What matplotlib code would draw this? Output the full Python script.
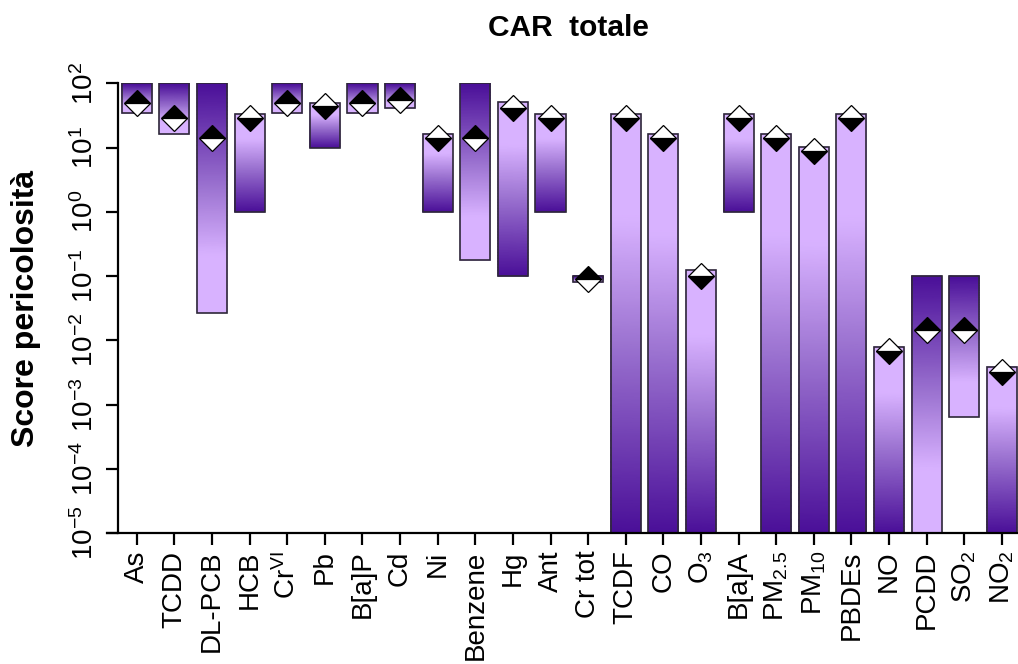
import numpy as np
import matplotlib
matplotlib.use("Agg")
import matplotlib.pyplot as plt
from matplotlib.colors import LinearSegmentedColormap
from matplotlib.lines import Line2D

plt.rcParams['font.family'] = ['Liberation Sans', 'DejaVu Sans']
plt.rcParams['mathtext.default'] = 'regular'

# ---------------- data ----------------
categories = ['As', 'TCDD', 'DL-PCB', 'HCB', 'Cr$^{VI}$', 'Pb', 'B[a]P', 'Cd', 'Ni',
              'Benzene', 'Hg', 'Ant', 'Cr tot', 'TCDF', 'CO', 'O$_3$', 'B[a]A',
              'PM$_{2.5}$', 'PM$_{10}$', 'PBDEs', 'NO', 'PCDD', 'SO$_2$', 'NO$_2$']
bar_top = [100, 100, 100, 33, 100, 49, 100, 100, 16.3, 100, 50.7, 33, 0.1,
           33, 16.3, 0.123, 33, 16.3, 10.1, 33, 0.0079, 0.1, 0.1, 0.0039]
bar_bottom = [34, 16.3, 0.027, 1, 34, 10, 34, 41, 1, 0.176, 0.1, 1, 0.081,
              1e-5, 1e-5, 1e-5, 1, 1e-5, 1e-5, 1e-5, 1e-5, 1e-5, 0.00065, 1e-5]
dark_on_top = [1, 1, 1, 0, 1, 0, 1, 1, 0, 1, 0, 0, 1,
               0, 0, 0, 0, 0, 0, 0, 0, 1, 1, 0]
score = [49, 28.6, 14, 28.6, 49, 44, 49, 55, 14, 14, 42, 28.6, 0.09,
         28.6, 14, 0.1, 28.6, 14, 8.7, 28.6, 0.0068, 0.0145, 0.0145, 0.0032]
black_on_top = [1, 1, 1, 0, 1, 0, 1, 1, 0, 1, 0, 0, 1,
                0, 0, 0, 0, 0, 0, 0, 0, 1, 1, 0]
ytick_exp = [-5, -4, -3, -2, -1, 0, 1, 2]

# ---------------- style ----------------
DARK = '#4a0f98'
MID = '#9b72d0'
LIGHT = '#d8b2ff'
cmap = LinearSegmentedColormap.from_list(
    'grad', [(0.0, DARK), (0.45, MID), (0.75, LIGHT), (1.0, LIGHT)])

W, H = 1018, 664
fig = plt.figure(figsize=(W / 100, H / 100), dpi=100)
ax = fig.add_axes([118 / W, 1 - 533 / H, (W - 118) / W, (533 - 83.3) / H])
ax.set_yscale('log')
ax.set_ylim(1e-5, 1e2)
n = len(categories)
ax.set_xlim(-0.5, n - 1 + 0.43)

bw = 0.8
for i in range(n):
    lo, hi = np.log10(bar_bottom[i]), np.log10(bar_top[i])
    ys = np.logspace(lo, hi, 60)
    t = np.linspace(0, 1, 60)  # 0 at bottom, 1 at top
    tt = (1 - t) if dark_on_top[i] else t  # 0 = dark end
    C = np.column_stack([tt, tt])
    X, Y = np.meshgrid([i - bw / 2, i + bw / 2], ys)
    ax.pcolormesh(X, Y, C, cmap=cmap, vmin=0, vmax=1, shading='gouraud', zorder=2)
ax.bar(range(n), np.array(bar_top) - np.array(bar_bottom), bottom=bar_bottom,
       width=bw, fill=False, edgecolor='#2e2838', linewidth=1.2, zorder=3)

for i in range(n):
    ax.plot(i, score[i], marker='D', markersize=13.5,
            fillstyle='top' if black_on_top[i] else 'bottom',
            markerfacecolor='black', markerfacecoloralt='white',
            markeredgecolor='black', markeredgewidth=0.9, linestyle='none',
            zorder=4, clip_on=False)

# axes
for s in ['top', 'right', 'bottom']:
    ax.spines[s].set_visible(False)
ax.spines['left'].set_linewidth(1.6)
ax.add_line(Line2D([-11 / (W - 118), 1.0], [0, 0], transform=ax.transAxes,
                   color='black', linewidth=1.6, clip_on=False, zorder=5))

ax.set_yticks([10.0 ** e for e in ytick_exp])
ax.set_yticklabels([r'$10^{%d}$' % e for e in ytick_exp], rotation=90,
                   va='center', fontsize=20)
ax.yaxis.set_minor_locator(matplotlib.ticker.NullLocator())
ax.tick_params(axis='y', length=8.4, width=1.6, pad=5)

ax.set_xticks(range(n))
ax.set_xticklabels(categories, rotation=90, fontsize=20)
ax.tick_params(axis='x', length=8.6, width=1.6, pad=4)

ax.set_ylabel('Score pericolosità', fontsize=23, fontweight='bold', labelpad=22)
fig.text((118 + W) / 2 / W, 1 - 28 / H, 'CAR  totale', ha='center', va='center',
         fontsize=21.5, fontweight='bold')

fig.savefig('out.png', dpi=100)
